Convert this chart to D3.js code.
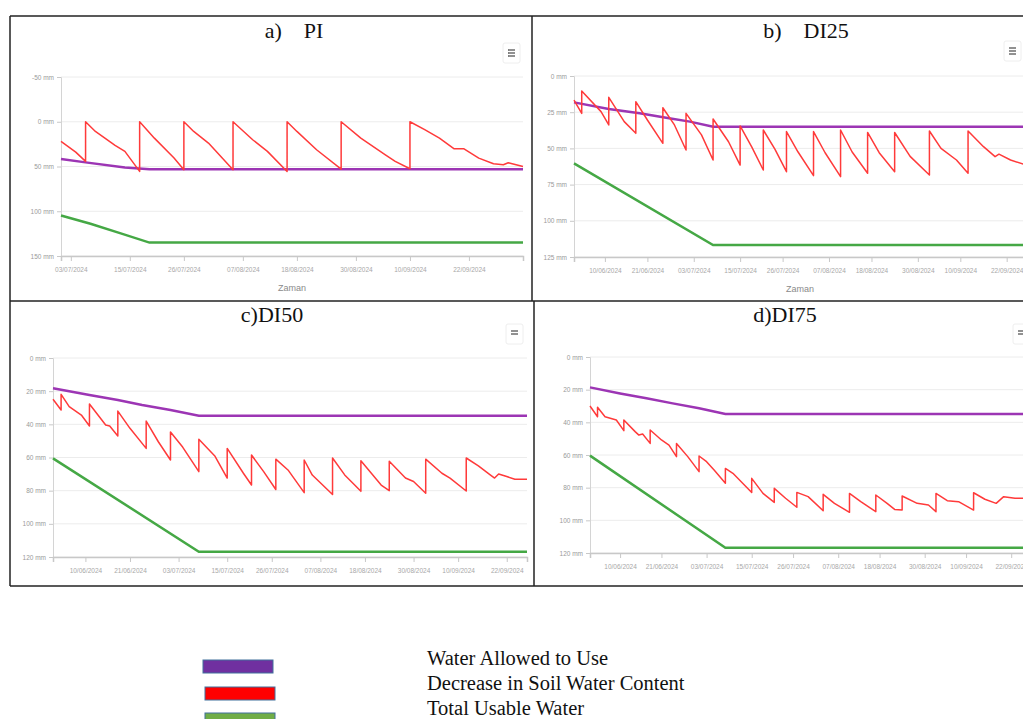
<!DOCTYPE html>
<html>
<head>
<meta charset="utf-8">
<script src="https://cdn.jsdelivr.net/npm/d3@7"></script>
<style>
  html, body { margin: 0; padding: 0; background: #fff; overflow: hidden; }
  svg { display: block; }
</style>
</head>
<body>
<svg id="chart" width="1023" height="719"></svg>
<script>
// ---- data ----
const piDateTicks = ["03/07/2024", "15/07/2024", "26/07/2024", "07/08/2024", "18/08/2024", "30/08/2024", "10/09/2024", "22/09/2024"];
const diDateTicks = ["10/06/2024", "21/06/2024", "03/07/2024", "15/07/2024", "26/07/2024", "07/08/2024", "18/08/2024", "30/08/2024", "10/09/2024", "22/09/2024"];
const piValueTicks = [-50, 0, 50, 100, 150];
const di25ValueTicks = [0, 25, 50, 75, 100, 125];
const di50ValueTicks = [0, 20, 40, 60, 80, 100, 120];
const di75ValueTicks = [0, 20, 40, 60, 80, 100, 120];

// PI
const piAllowed = [["01/07/2024", 41.7], ["06/07/2024", 45.4], ["14/07/2024", 51], ["19/07/2024", 53], ["03/10/2024", 53]];
const piTotal = [["01/07/2024", 104.7], ["07/07/2024", 114], ["13/07/2024", 124.4], ["19/07/2024", 135], ["03/10/2024", 135]];
const piDecrease = [
  ["01/07/2024", 22], ["04/07/2024", 33.9], ["06/07/2024", 44.3], ["06/07/2024", 0],
  ["08/07/2024", 10.8], ["12/07/2024", 26.4], ["14/07/2024", 33.1], ["17/07/2024", 55.5], ["17/07/2024", 0],
  ["20/07/2024", 18.3], ["24/07/2024", 40.6], ["26/07/2024", 53.6], ["26/07/2024", 0],
  ["28/07/2024", 10.8], ["31/07/2024", 23.8], ["05/08/2024", 53.6], ["05/08/2024", 0],
  ["09/08/2024", 20.1], ["12/08/2024", 33.1], ["16/08/2024", 55.5], ["16/08/2024", 0],
  ["18/08/2024", 10.8], ["22/08/2024", 31.3], ["27/08/2024", 52.9], ["27/08/2024", 0],
  ["31/08/2024", 18.3], ["05/09/2024", 36.9], ["07/09/2024", 44.3], ["10/09/2024", 52.5], ["10/09/2024", 0],
  ["13/09/2024", 8.9], ["16/09/2024", 18.3], ["19/09/2024", 30.2], ["21/09/2024", 30.2], ["24/09/2024", 40.6],
  ["27/09/2024", 46.9], ["29/09/2024", 48], ["30/09/2024", 45.8], ["03/10/2024", 49.9]
];

// DI25
const di25Allowed = [["02/06/2024", 18.2], ["11/06/2024", 22.8], ["19/06/2024", 25.8], ["27/06/2024", 29.3], ["02/07/2024", 31.5], ["08/07/2024", 35], ["27/09/2024", 35]];
const di25Total = [["02/06/2024", 60.3], ["08/07/2024", 116.7], ["27/09/2024", 116.7]];
const di25Decrease = [
  ["02/06/2024", 16.6], ["04/06/2024", 25.8], ["04/06/2024", 10.4],
  ["09/06/2024", 24.6], ["11/06/2024", 33.8], ["11/06/2024", 14.7],
  ["15/06/2024", 31.5], ["18/06/2024", 39.6], ["18/06/2024", 17.7],
  ["21/06/2024", 30.4], ["25/06/2024", 46.5], ["25/06/2024", 21.9],
  ["28/06/2024", 33.8], ["01/07/2024", 51.1], ["01/07/2024", 25.8],
  ["05/07/2024", 40.7], ["08/07/2024", 58], ["08/07/2024", 29.7],
  ["12/07/2024", 45.4], ["15/07/2024", 61.5], ["15/07/2024", 34.5],
  ["18/07/2024", 49], ["21/07/2024", 64.9], ["21/07/2024", 37.3],
  ["24/07/2024", 50.5], ["27/07/2024", 66.1], ["27/07/2024", 38.4],
  ["30/07/2024", 52.5], ["03/08/2024", 68.8], ["03/08/2024", 38.4],
  ["06/08/2024", 53], ["10/08/2024", 69.5], ["10/08/2024", 37.3],
  ["13/08/2024", 52.5], ["17/08/2024", 67.2], ["17/08/2024", 39],
  ["20/08/2024", 53], ["24/08/2024", 66.1], ["24/08/2024", 39],
  ["28/08/2024", 55.5], ["02/09/2024", 68.4], ["02/09/2024", 38],
  ["05/09/2024", 50], ["09/09/2024", 58], ["12/09/2024", 67.2], ["12/09/2024", 38],
  ["16/09/2024", 48.8], ["19/09/2024", 55.7], ["20/09/2024", 54], ["23/09/2024", 58], ["27/09/2024", 61.5]
];

// DI50
const di50Allowed = [["02/06/2024", 18.3], ["11/06/2024", 22.3], ["18/06/2024", 25.3], ["24/06/2024", 28.3], ["01/07/2024", 31.4], ["08/07/2024", 34.8], ["27/09/2024", 34.8]];
const di50Total = [["02/06/2024", 60.5], ["08/07/2024", 116.8], ["27/09/2024", 116.8]];
const di50Decrease = [
  ["02/06/2024", 24.9], ["04/06/2024", 31.4], ["04/06/2024", 21.9],
  ["06/06/2024", 29.3], ["09/06/2024", 34.4], ["11/06/2024", 41], ["11/06/2024", 27.7],
  ["15/06/2024", 40.4], ["16/06/2024", 41], ["18/06/2024", 47], ["18/06/2024", 32],
  ["21/06/2024", 42.4], ["25/06/2024", 54.5], ["25/06/2024", 38],
  ["28/06/2024", 50.5], ["01/07/2024", 61.5], ["01/07/2024", 44.6],
  ["04/07/2024", 53.7], ["08/07/2024", 68.5], ["08/07/2024", 49],
  ["12/07/2024", 59.3], ["15/07/2024", 72.4], ["15/07/2024", 54.5],
  ["19/07/2024", 69.5], ["21/07/2024", 76.6], ["21/07/2024", 58.5],
  ["24/07/2024", 68.5], ["27/07/2024", 79.3], ["27/07/2024", 61],
  ["30/07/2024", 67.5], ["03/08/2024", 81.2], ["03/08/2024", 61.5],
  ["05/08/2024", 70.6], ["10/08/2024", 82.3], ["10/08/2024", 60.3],
  ["13/08/2024", 70.5], ["17/08/2024", 80.4], ["17/08/2024", 62],
  ["22/08/2024", 76.6], ["24/08/2024", 80], ["24/08/2024", 62.3],
  ["28/08/2024", 72.4], ["30/08/2024", 74.5], ["02/09/2024", 81.6], ["02/09/2024", 61],
  ["06/09/2024", 69.5], ["08/09/2024", 72.4], ["12/09/2024", 80.2], ["12/09/2024", 60.3],
  ["15/09/2024", 65.1], ["18/09/2024", 70.6], ["19/09/2024", 72.4], ["20/09/2024", 69.9],
  ["22/09/2024", 71.5], ["24/09/2024", 73.1], ["27/09/2024", 73.1]
];

// DI75
const di75Allowed = [["02/06/2024", 18.6], ["10/06/2024", 22.3], ["17/06/2024", 25.3], ["24/06/2024", 28.4], ["01/07/2024", 31.4], ["08/07/2024", 34.9], ["27/09/2024", 34.9]];
const di75Total = [["02/06/2024", 60.4], ["08/07/2024", 116.8], ["27/09/2024", 116.8]];
const di75Decrease = [
  ["02/06/2024", 30], ["04/06/2024", 36.6], ["04/06/2024", 30.8],
  ["06/06/2024", 36.6], ["09/06/2024", 38.6], ["11/06/2024", 45.1], ["11/06/2024", 38.6],
  ["14/06/2024", 45.7], ["15/06/2024", 47.8], ["16/06/2024", 47.2], ["18/06/2024", 52.9], ["18/06/2024", 44.7],
  ["21/06/2024", 50.8], ["23/06/2024", 53.9], ["25/06/2024", 61], ["25/06/2024", 52.9],
  ["28/06/2024", 61], ["01/07/2024", 70.2], ["01/07/2024", 60.6],
  ["03/07/2024", 64.1], ["05/07/2024", 69.2], ["08/07/2024", 77.3], ["08/07/2024", 68.2],
  ["10/07/2024", 71.2], ["15/07/2024", 82.9], ["15/07/2024", 74.3],
  ["18/07/2024", 83.5], ["21/07/2024", 89], ["21/07/2024", 80.4],
  ["24/07/2024", 86.5], ["27/07/2024", 92], ["27/07/2024", 82.9],
  ["30/07/2024", 85.5], ["03/08/2024", 94.1], ["03/08/2024", 84.1],
  ["06/08/2024", 89.6], ["10/08/2024", 95.1], ["10/08/2024", 83.5],
  ["13/08/2024", 88.6], ["17/08/2024", 94.7], ["17/08/2024", 84.5],
  ["20/08/2024", 89.6], ["22/08/2024", 93.3], ["24/08/2024", 93.7], ["24/08/2024", 85.1],
  ["28/08/2024", 89.6], ["31/08/2024", 90.6], ["02/09/2024", 94.7], ["02/09/2024", 83.5],
  ["05/09/2024", 88], ["08/09/2024", 88.6], ["12/09/2024", 93.7], ["12/09/2024", 83.1],
  ["15/09/2024", 87.1], ["18/09/2024", 89.6], ["20/09/2024", 85.5], ["23/09/2024", 86.5], ["27/09/2024", 86.5]
];

const legendLabels = ["Water Allowed to Use", "Decrease in Soil Water Content", "Total Usable Water"];

// ---- drawing ----
const parse = d3.timeParse("%d/%m/%Y");
const svg = d3.select("#chart");

const panels = [
  { title: "a)    PI", tx: 294, ty: 38, left: 61, right: 523, top: 77, bottom: 256,
    start: "01/07/2024", end: "03/10/2024", yTicks: piValueTicks, xTicks: piDateTicks,
    allowed: piAllowed, decrease: piDecrease, total: piTotal, zaman: true, menu: [503, 43, 3] },
  { title: "b)    DI25", tx: 806, ty: 38, left: 574, right: 1026, top: 76, bottom: 257,
    start: "02/06/2024", end: "27/09/2024", yTicks: di25ValueTicks, xTicks: diDateTicks,
    allowed: di25Allowed, decrease: di25Decrease, total: di25Total, zaman: true, menu: [1004, 41, 3] },
  { title: "c)DI50", tx: 272, ty: 322, left: 53, right: 527, top: 358, bottom: 557,
    start: "02/06/2024", end: "27/09/2024", yTicks: di50ValueTicks, xTicks: diDateTicks,
    allowed: di50Allowed, decrease: di50Decrease, total: di50Total, zaman: false, menu: [506, 324, 2] },
  { title: "d)DI75", tx: 785, ty: 322, left: 590, right: 1030, top: 357, bottom: 553,
    start: "02/06/2024", end: "27/09/2024", yTicks: di75ValueTicks, xTicks: diDateTicks,
    allowed: di75Allowed, decrease: di75Decrease, total: di75Total, zaman: false, menu: [1013, 324, 2] }
];

panels.forEach(p => {
  const x = d3.scaleTime().domain([parse(p.start), parse(p.end)]).range([p.left, p.right]);
  const y = d3.scaleLinear().domain(d3.extent(p.yTicks)).range([p.top, p.bottom]);
  const g = svg.append("g");

  // grid
  g.append("g").selectAll("line").data(p.yTicks).join("line")
    .attr("x1", p.left).attr("x2", p.right)
    .attr("y1", d => y(d)).attr("y2", d => y(d))
    .attr("stroke", "#ececec").attr("stroke-width", 1);

  // y axis
  const yAxis = g.append("g").attr("transform", `translate(${p.left},0)`)
    .call(d3.axisLeft(y).tickValues(p.yTicks).tickSize(4).tickPadding(3).tickFormat(d => d + " mm"));
  yAxis.select(".domain").attr("stroke", "#d4d4d4");
  yAxis.selectAll(".tick line").attr("stroke", "#c8c8c8");
  yAxis.selectAll("text").attr("fill", "#9a9a9a").style("font", "6.5px 'Liberation Sans', sans-serif");

  // x axis
  const xAxis = g.append("g").attr("transform", `translate(0,${p.bottom})`)
    .call(d3.axisBottom(x).tickValues(p.xTicks.map(parse)).tickSize(5).tickPadding(6)
      .tickFormat(d3.timeFormat("%d/%m/%Y")));
  xAxis.select(".domain").attr("stroke", "#c8c8c8").attr("stroke-width", 1.5);
  xAxis.selectAll(".tick line").attr("stroke", "#c8c8c8");
  xAxis.selectAll("text").attr("fill", "#a8a8a8").style("font", "6.5px 'Liberation Sans', sans-serif");

  if (p.zaman) {
    g.append("text").attr("x", (p.left + p.right) / 2).attr("y", p.bottom + 35)
      .attr("text-anchor", "middle").attr("fill", "#8a8a8a")
      .style("font", "9px 'Liberation Sans', sans-serif").text("Zaman");
  }

  const line = d3.line().x(d => x(parse(d[0]))).y(d => y(d[1]));
  g.append("path").datum(p.total).attr("d", line).attr("fill", "none")
    .attr("stroke", "#45a845").attr("stroke-width", 2.5);
  g.append("path").datum(p.allowed).attr("d", line).attr("fill", "none")
    .attr("stroke", "#9c35b4").attr("stroke-width", 2.5);
  g.append("path").datum(p.decrease).attr("d", line).attr("fill", "none")
    .attr("stroke", "#ff3a3a").attr("stroke-width", 1.5).attr("stroke-linejoin", "round");

  // menu icon
  const [mx, my, n] = p.menu;
  g.append("rect").attr("x", mx).attr("y", my).attr("width", 17).attr("height", 20).attr("rx", 2)
    .attr("fill", "#fff").attr("stroke", "#eee");
  g.append("g").selectAll("line").data(d3.range(n)).join("line")
    .attr("x1", mx + 5).attr("x2", mx + 12)
    .attr("y1", i => my + 7 + i * 3).attr("y2", i => my + 7 + i * 3)
    .attr("stroke", "#555").attr("stroke-width", 1.3);

  // title
  g.append("text").attr("x", p.tx).attr("y", p.ty).attr("text-anchor", "middle")
    .style("font", "22px 'Liberation Serif', serif").style("white-space", "pre")
    .attr("fill", "#111").text(p.title);
});

// frame
const frame = svg.append("g").attr("stroke", "#222").attr("stroke-width", 1.5).attr("fill", "none");
frame.append("line").attr("x1", 10).attr("x2", 1023).attr("y1", 16).attr("y2", 16);
frame.append("line").attr("x1", 10).attr("x2", 1023).attr("y1", 301).attr("y2", 301);
frame.append("line").attr("x1", 10).attr("x2", 1023).attr("y1", 586).attr("y2", 586);
frame.append("line").attr("x1", 10).attr("x2", 10).attr("y1", 16).attr("y2", 586);
frame.append("line").attr("x1", 532).attr("x2", 532).attr("y1", 16).attr("y2", 301);
frame.append("line").attr("x1", 534).attr("x2", 534).attr("y1", 301).attr("y2", 586);

// legend
const legendColors = ["#7030a0", "#ff0000", "#70ad47"];
const legendBoxes = [[203, 660], [205, 687], [205, 713]];
const lg = svg.append("g");
lg.selectAll("rect").data(legendColors).join("rect")
  .attr("x", (d, i) => legendBoxes[i][0]).attr("y", (d, i) => legendBoxes[i][1])
  .attr("width", 70).attr("height", 13)
  .attr("fill", d => d).attr("stroke", "#41719c").attr("stroke-width", 1);
lg.selectAll("text").data(legendLabels).join("text")
  .attr("x", 427).attr("y", (d, i) => 665 + i * 25)
  .style("font", "20.5px 'Liberation Serif', serif").attr("fill", "#111")
  .text(d => d);
</script>
</body>
</html>
